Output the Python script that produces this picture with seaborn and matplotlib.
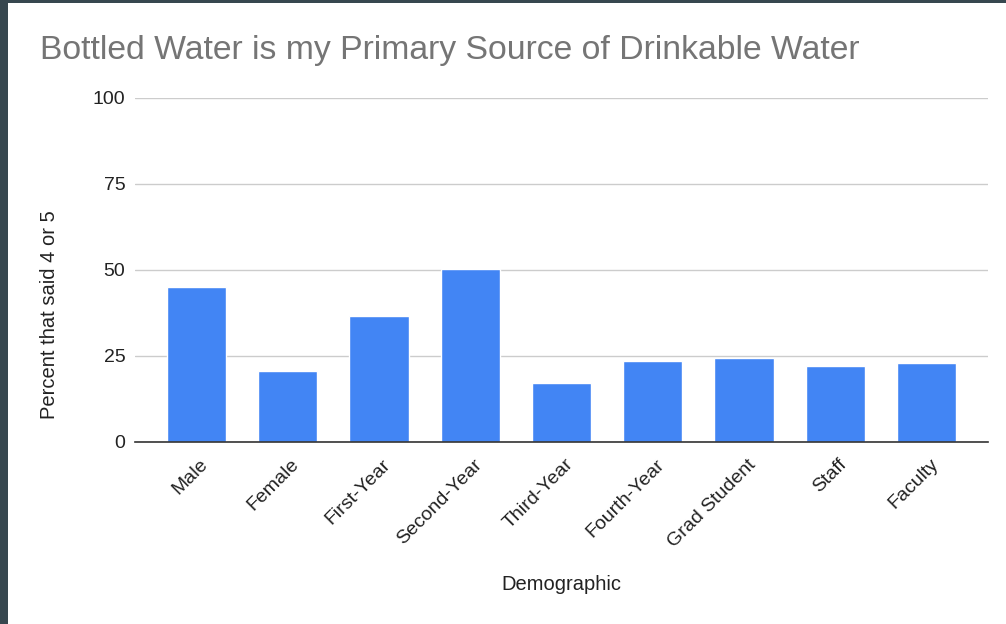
import numpy as np
import pandas as pd
import seaborn as sns
import matplotlib
from matplotlib import pyplot as plt
from matplotlib.patches import Rectangle
from matplotlib.transforms import ScaledTranslation

# data
groups = ['Male', 'Female', 'First-Year', 'Second-Year', 'Third-Year',
          'Fourth-Year', 'Grad Student', 'Staff', 'Faculty']
percent = [45.0, 20.6, 36.7, 50.4, 17.1, 23.5, 24.4, 22.0, 23.0]
y_ticks = [0, 25, 50, 75, 100]

df = pd.DataFrame({'Demographic': groups, 'Percent': percent})

sns.set_theme(style='white')
matplotlib.rcParams['font.family'] = ['Liberation Sans', 'DejaVu Sans']

fig = plt.figure(figsize=(10.06, 6.24), dpi=100)
fig.patch.set_facecolor('#37474f')
# white card inside the dark frame
fig.patches.append(Rectangle((8 / 1006, 0), 1, 621 / 624, transform=fig.transFigure,
                             facecolor='white', edgecolor='none', zorder=-10))

ax = fig.add_axes([135 / 1006, (624 - 442) / 624, (988 - 135) / 1006, (442 - 98) / 624])
ax.set_facecolor('white')

sns.barplot(data=df, x='Demographic', y='Percent', color='#4285f4', saturation=1,
            width=0.647, ax=ax, zorder=3)

ax.set_xlim(-0.674, len(groups) - 1 + 0.674)
ax.set_ylim(0, 100)
ax.set_yticks(y_ticks)
ax.set_yticklabels([str(t) for t in y_ticks], fontsize=14, color='#222222')
ax.yaxis.grid(True, color='#cccccc', linewidth=1, zorder=0)
ax.tick_params(axis='both', length=0)
ax.tick_params(axis='y', pad=7)

for s in ['top', 'right', 'left']:
    ax.spines[s].set_visible(False)
ax.spines['bottom'].set_color('#333333')
ax.spines['bottom'].set_linewidth(1.2)
ax.spines['bottom'].set_zorder(4)

ax.set_xticks(range(len(groups)))
ax.set_xticklabels(groups, rotation=45, ha='right', va='top', rotation_mode='anchor',
                   fontsize=14, color='#222222')
ax.tick_params(axis='x', pad=10)
# nudge the slanted labels slightly to the right like the reference
shift = ScaledTranslation(3 / 100, 0, fig.dpi_scale_trans)
for lab in ax.get_xticklabels():
    lab.set_transform(lab.get_transform() + shift)

ax.set_xlabel('Demographic', fontsize=14.5, color='#222222')
ax.xaxis.label.set_va('center')
ax.xaxis.set_label_coords(0.5, (442 - 584) / 344)
ax.set_ylabel('Percent that said 4 or 5', fontsize=14.5, color='#222222')
ax.yaxis.label.set_va('center')
ax.yaxis.set_label_coords((50 - 135) / 853, (442 - 315) / 344)

fig.text(40 / 1006, 1 - 50 / 624, 'Bottled Water is my Primary Source of Drinkable Water',
         fontsize=24.3, color='#757575', ha='left', va='center')

fig.savefig('out.png', dpi=100, facecolor=fig.get_facecolor())
